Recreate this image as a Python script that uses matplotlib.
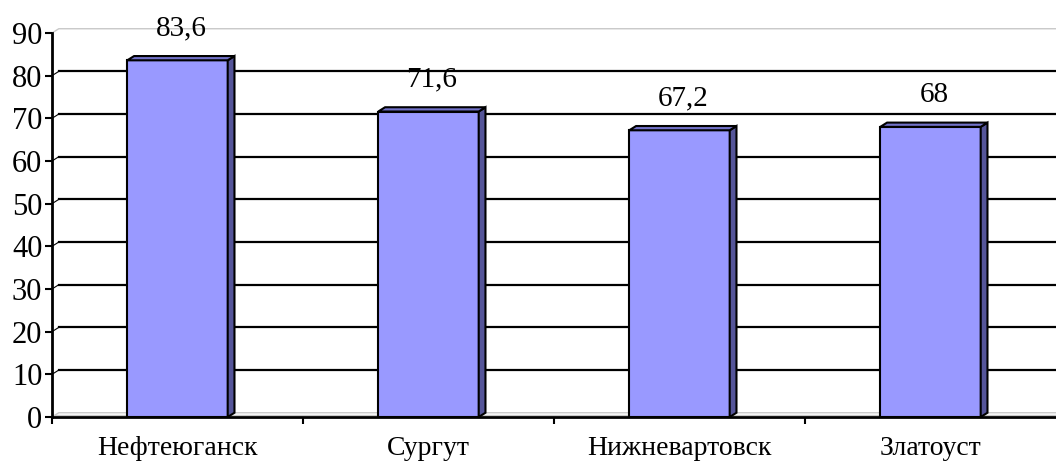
import matplotlib
matplotlib.use("Agg")
import matplotlib.pyplot as plt
from matplotlib.patches import Polygon

plt.rcParams['font.family'] = ['Liberation Serif', 'DejaVu Serif']

cities = ["Нефтеюганск", "Сургут", "Нижневартовск", "Златоуст"]
values = [83.6, 71.6, 67.2, 68]
labels = ["83,6", "71,6", "67,2", "68"]
yticks = [0, 10, 20, 30, 40, 50, 60, 70, 80, 90]

# 3d depth of the excel-style bars, in data units
DX = 0.027
DY = 1.0
W = 0.4

fig = plt.figure(figsize=(10.56, 4.61), dpi=100)
ax = fig.add_axes([52 / 1056, 44 / 461, 1004 / 1056, 384 / 461])
ax.set_xlim(-0.5, len(cities) - 0.5)
ax.set_ylim(0, 90)

# back wall gridlines
for v in yticks[1:-1]:
    ax.plot([-0.5 + DX, len(cities)], [v + DY, v + DY], color='black', lw=1.6, zorder=1, clip_on=False)
    ax.plot([-0.5, -0.5 + DX], [v, v + DY], color='black', lw=0.8, zorder=1, clip_on=False)
# top edge of wall and the floor
ax.plot([-0.5, -0.5 + DX, len(cities)], [90, 90 + DY, 90 + DY], color='#c8c8c8', lw=1, zorder=1, clip_on=False)
ax.plot([-0.5, -0.5 + DX, len(cities)], [0, DY, DY], color='#c8c8c8', lw=1, zorder=1, clip_on=False)
ax.plot([-0.5 + DX / 2, len(cities)], [DY * 0.4, DY * 0.4], color='#c8c8c8', lw=1, zorder=1, clip_on=False)

xs = list(range(len(cities)))
ax.bar(xs, values, width=W, color='#9999ff', edgecolor='black', linewidth=1.5, zorder=3)
for x, v, lab in zip(xs, values, labels):
    r = x + W / 2
    l = x - W / 2
    side = Polygon([(r, 0), (r + DX, DY), (r + DX, v + DY), (r, v)], closed=True,
                   facecolor='#555599', edgecolor='black', lw=1.5, zorder=3)
    top = Polygon([(l, v), (l + DX, v + DY), (r + DX, v + DY), (r, v)], closed=True,
                  facecolor='#7272c8', edgecolor='black', lw=1.5, zorder=3)
    ax.add_patch(side)
    ax.add_patch(top)
    ax.annotate(lab, (x + DX / 2, v + DY), xytext=(0, 20), textcoords='offset points',
                ha='center', va='center', fontsize=21)

for s in ['top', 'right']:
    ax.spines[s].set_visible(False)
for s in ['left', 'bottom']:
    ax.spines[s].set_linewidth(2)
    ax.spines[s].set_zorder(4)

ax.set_yticks(yticks)
ax.set_yticklabels([str(t) for t in yticks], fontsize=22)
ax.tick_params(axis='y', length=5, width=1.5, pad=2)

ax.set_xticks(xs)
ax.set_xticklabels(cities, fontsize=20)
ax.tick_params(axis='x', which='major', length=0, pad=14)
ax.set_xticks([x - 0.5 for x in xs], minor=True)
ax.tick_params(axis='x', which='minor', length=5, width=1.5)

fig.savefig("out.png", dpi=100)
